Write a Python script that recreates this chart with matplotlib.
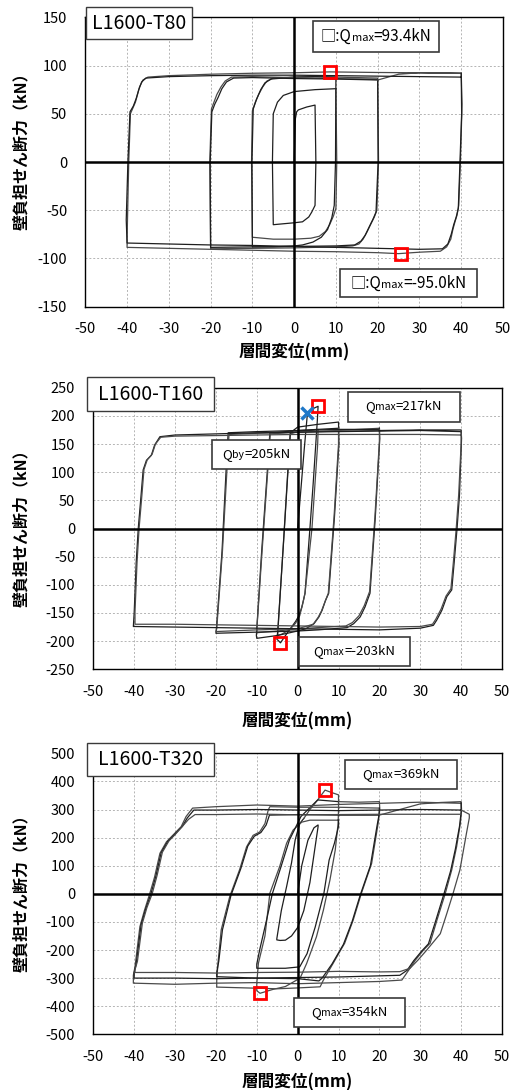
import matplotlib
matplotlib.use('Agg')
import matplotlib.pyplot as plt
from matplotlib.patches import Rectangle
from matplotlib.offsetbox import TextArea, HPacker, AnnotationBbox

FONT = ['Noto Sans CJK JP', 'DejaVu Sans']
plt.rcParams['font.family'] = FONT
plt.rcParams['axes.unicode_minus'] = False

# ---------------- data: L1600-T80 ----------------
t80_c5_x = [0, 0.3, 0.6, 1.0, 3.0, 5.0, 5.2, 5.0, 4.2, 3.5, 2.0, 0.0, -5.0, -5.2, -5.0, -4.0, -2.6, 0.0, 5.0, 10.0]
t80_c5_y = [0, 45, 52, 54, 57, 59, 0, -45, -52, -57, -62, -63, -65, 0, 50, 62, 69, 73, 75, 76]
t80_c10a_x = [10.0, 10.2, 10.0, 9.4, 8.5, 7.5, 6.0, 4.0, 0.0, -5.0, -10.0, -10.2, -10.0, -9.3, -8.5, -7.5, -6.5, -5.0, 0.0, 5.0, 10.0]
t80_c10a_y = [76, 0, -48, -56, -65, -72, -77, -79, -80, -80, -78, 0, 53, 62, 70, 78, 84, 87, 88, 88.5, 88]
t80_c10b_x = [10.0, 9.9, 9.6, 9.0, 8.0, 6.5, 4.5, 2.0, 0.0, -5.0, -10.0, -10.1, -9.8, -9.0, -8.0, -7.0, -5.5, 0.0, 5.0, 10.0]
t80_c10b_y = [88, 0, -45, -58, -70, -78, -83, -86, -87, -88, -88, 0, 55, 65, 75, 82, 86, 88, 88.5, 88]
t80_c20a_x = [10, 15, 20, 20.2, 19.8, 19.2, 18.5, 17.5, 16.5, 15.5, 14.0, 10.0, 0.0, -10.0, -20.0, -20.2, -19.8, -19.2, -18.5, -17.5, -16.5, -15.0, -10.0, 0.0, 10.0, 20.0]
t80_c20a_y = [88, 87.5, 87, 0, -50, -57, -63, -72, -80, -85, -87, -88, -89, -89.5, -90, 0, 55, 62, 70, 78, 84, 88, 88.5, 87.5, 86.5, 85.5]
t80_c20b_x = [20, 20.1, 19.6, 18.8, 18.0, 17.0, 16.0, 14.5, 10, 0, -10, -20, -20.1, -19.7, -19.0, -18.2, -17.3, -16.2, -14.5, -10, 0, 10, 20]
t80_c20b_y = [85.5, 0, -52, -60, -67, -76, -82, -86, -87, -87.5, -88, -88.5, 0, 52, 60, 67, 76, 83, 87, 87.5, 86.5, 86, 85]
t80_c40a_x = [20, 25, 30, 40, 40.2, 39.8, 39.4, 39.0, 38.5, 38.0, 37.5, 36.5, 35.0, 30, 25, 20, 10, 0, -10, -20, -30, -40,
              -40, -39.6, -39.2, -38.6, -38.0, -37.5, -37.0, -36.2, -35.0, -30, -20, -10, 0, 8.6, 20, 30, 40]
t80_c40a_y = [85, 91, 92.5, 92, 60, 0, -45, -55, -62, -70, -80, -88, -92.5, -93.5, -95, -94, -93, -92.5, -91.5, -90.5, -89.5, -88.5,
              -80, 0, 50, 56, 62, 70, 78, 85, 88, 89.5, 91, 92, 92.5, 93.4, 92.8, 92.5, 92]
t80_c40b_x = [40, 40.1, 39.7, 39.3, 38.8, 38.2, 37.6, 36.8, 35.5, 30, 20, 10, 0, -10, -20, -30, -40,
              -40.2, -39.8, -39.3, -38.5, -37.8, -37.2, -36.5, -35.5, -30, -20, -10, 0, 10, 20, 30, 40]
t80_c40b_y = [92, 50, 0, -48, -57, -65, -75, -85, -90, -90.5, -89.5, -88.5, -87.5, -86.5, -86, -85, -84,
              -60, 0, 52, 58, 66, 75, 83, 87, 88.5, 89.5, 90, 90, 89.5, 89, 88.5, 88]

# ---------------- data: L1600-T160 ----------------
t160_c5a_x = [0, 0.8, 1.6, 2.4, 3.5, 5.0, 4.8, 3.8, 3.0, 1.8, 1.4, 1.0, 0.3, -0.5, -1.5, -2.5, -4.2, -5.0]
t160_c5a_y = [0, 70, 140, 205, 212, 217, 190, 80, 0, -115, -128, -140, -155, -165, -175, -185, -203, -197]
t160_c5b_x = [-5.0, -4.9, -3.6, -2.4, -1.8, 0.0, 3.0, 5.0, 4.9, 3.5, 1.8, 1.2, 0.5, -0.5, -2.0, -4.0, -5.0]
t160_c5b_y = [-197, -190, -40, 104, 168, 172, 174, 176, 150, 0, -115, -135, -155, -168, -180, -188, -190]
t160_c10a_x = [-5.0, -4.9, -3.5, -2.3, -1.8, 0, 5, 10, 10.1, 9.0, 7.6, 6.8, 6.0, 5.2, 4.0, 2.0, 0.0, -5.0, -10.0,
               -10.1, -8.8, -7.4, -6.8, -3, 0, 5, 10]
t160_c10a_y = [-190, -185, -30, 110, 170, 180, 185, 189, 150, 20, -115, -128, -145, -157, -169, -178, -182, -190, -195,
               -190, -40, 104, 170, 172, 174, 176, 178]
t160_c10b_x = [10, 10.0, 8.9, 7.5, 6.7, 5.8, 5.0, 3.8, 0, -5, -10, -10.0, -8.7, -7.3, -6.7, 0, 10, 20]
t160_c10b_y = [178, 150, 20, -115, -130, -147, -158, -170, -178, -182, -185, -180, -40, 104, 168, 171, 174, 178]
t160_c20a_x = [20, 20.1, 19.0, 17.7, 16.5, 15.3, 13.7, 12.1, 5, 0, -10, -20, -19.9, -18.5, -17.5, -17.0, -10, 0, 10, 20]
t160_c20a_y = [178, 160, 20, -115, -139, -157, -169, -176, -180, -182, -184, -186, -180, -40, 104, 170, 172, 174, 176, 176]
t160_c20b_x = [20, 20.0, 18.9, 17.6, 16.3, 15.0, 13.4, 11.8, 5, 0, -10, -20, -19.8, -18.4, -17.3, -16.8, -10, 0, 10, 20]
t160_c20b_y = [176, 155, 20, -112, -137, -155, -167, -173, -176, -178, -180, -183, -178, -40, 104, 167, 169, 171, 173, 174]
t160_c40a_x = [20, 30, 40, 40.1, 39.6, 39.0, 38.3, 37.7, 36.5, 35.3, 34.0, 33.2, 30, 20, 10, 0, -10, -20, -30, -40.2,
               -40.0, -39.5, -39.0, -38.3, -37.8, -37.0, -35.8, -35.0, -33.7, -30, -20, -10, 0, 10, 20, 30, 40]
t160_c40a_y = [174, 175, 175, 160, 60, 0, -60, -109, -121, -145, -163, -172, -177, -180, -179, -178, -177, -176, -175, -174,
               -150, -60, 0, 60, 104, 121, 130, 148, 163, 166, 168, 170, 171, 172, 173, 174, 172]
t160_c40b_x = [40, 40.0, 39.4, 38.8, 38.1, 37.5, 36.3, 35.1, 33.8, 33.0, 30, 20, 10, 0, -10, -20, -30, -39.8,
               -39.8, -39.3, -38.8, -38.1, -37.6, -36.8, -35.6, -34.8, -33.5, -30, -20, -10, 0, 10, 20, 30, 40]
t160_c40b_y = [172, 150, 60, 0, -60, -107, -120, -143, -161, -170, -174, -175, -174, -173, -172, -171, -170, -170,
               -148, -60, 0, 60, 105, 122, 132, 150, 162, 164, 165, 166, 167, 167, 167, 167, 166]

# ---------------- data: L1600-T320 ----------------
t320_c5_x = [0, 1.0, 2.5, 4.0, 5.0, 5.0, 4.2, 3.0, 1.5, 0.0, -1.5, -3.0, -4.3, -5.1, -5.1, -4.0, -2.7, -1.5, -0.6, 0.5, 1.5]
t320_c5_y = [0, 100, 190, 235, 245, 239, 160, 40, -60, -120, -150, -165, -166, -164, -160, -60, 26, 110, 192, 250, 268]
t320_c10a_x = [1.5, 3.0, 4.9, 6.7, 8.0, 10.0, 10.0, 9.9, 9.2, 7.9, 6.3, 4.6, 2.2, 0.6, -3.0, -6.0, -9.2, -10.0,
               -10.0, -9.6, -8.0, -6.8, -4.4, -2.7, -1.1, 1.0, 3.0, 6.0, 10.0]
t320_c10a_y = [268, 300, 334, 369, 362, 352, 300, 251, 156, 49, -58, -153, -248, -300, -330, -340, -354, -345,
               -318, -247, -150, 2, 97, 180, 227, 255, 262, 262, 262]
t320_c10b_x = [10.0, 10.0, 9.0, 7.7, 6.4, 4.3, 2.3, 0.5, -3.0, -6.0, -10.0, -10.0, -9.3, -7.6, -6.2, -4.1, -2.0, 0.8, 4.9, 10.0]
t320_c10b_y = [262, 240, 180, 120, 0, -118, -213, -260, -265, -265, -265, -250, -200, -93, 0, 95, 192, 275, 334, 328]
t320_c20a_x = [10.0, 15.0, 20.0, 20.1, 19.7, 18.1, 15.6, 13.6, 11.5, 10.3, 8.7, 6.3, 5.5, 0.0, -5.0, -10.0, -15.0, -19.8,
               -19.8, -19.5, -18.7, -16.6, -14.2, -12.5, -10.9, -9.3, -8.0, -7.2, -6.8, 0.0, 10.0, 20.0]
t320_c20a_y = [328, 326, 328, 300, 251, 108, 2, -93, -176, -206, -247, -307, -331, -335, -338, -336, -334, -332,
               -310, -247, -128, -9, 86, 167, 208, 220, 250, 298, 310, 308, 308, 305]
t320_c20b_x = [20.0, 19.9, 19.4, 17.8, 15.3, 13.3, 11.2, 10.0, 8.4, 6.0, 5.2, 0.0, -10.0, -19.8,
               -19.8, -19.3, -18.4, -16.3, -13.9, -12.2, -10.6, -9.0, -7.7, -6.9, 0.0, 10.0, 20.0]
t320_c20b_y = [305, 280, 240, 100, -5, -100, -180, -210, -250, -300, -310, -302, -300, -295,
               -280, -240, -128, -5, 90, 170, 205, 218, 245, 280, 282, 280, 280]
t320_c40a_x = [20, 25, 30, 35, 40, 40.1, 39.8, 38.9, 37.7, 36.1, 34.1, 32.4, 30.8, 28.8, 27.2, 25.5, 20, 10, 0, -10, -20, -30, -40.2,
               -40.2, -39.8, -38.6, -37.5, -36.2, -35.0, -33.7, -32.1, -30.5, -28.5, -27.3, -25.7, -20, -10, 0, 10, 20, 30, 40]
t320_c40a_y = [280, 300, 320, 325, 328, 300, 250, 168, 85, 0, -93, -176, -200, -236, -271, -307, -312, -316, -320, -316, -318, -322, -318,
               -290, -260, -117, -60, 0, 60, 144, 185, 209, 239, 275, 305, 310, 316, 312, 318, 322, 326, 322]
t320_c40b_x = [40, 40.0, 39.6, 38.6, 37.4, 35.8, 33.8, 32.0, 30.4, 28.4, 26.8, 25.0, 20, 10, 0, -10, -20, -30, -40.0,
               -40.0, -39.5, -38.3, -37.2, -35.9, -34.7, -33.4, -31.8, -30.2, -28.2, -27.0, -25.4, -20, -10, 0, 10, 20, 30, 40]
t320_c40b_y = [322, 290, 240, 160, 80, 0, -95, -178, -203, -238, -272, -290, -292, -296, -298, -300, -302, -300, -300,
               -280, -250, -110, -55, 0, 62, 146, 186, 210, 240, 270, 298, 298, 300, 298, 296, 298, 300, 298]
t320_c40c_x = [40, 42.0, 42.0, 41.3, 39.7, 38.0, 36.5, 34.9, 31.6, 29.5, 27.5, 25.0, 20, 10, 0, -10, -20, -30, -39.8,
               -39.8, -39.2, -38.0, -36.9, -35.6, -34.4, -33.1, -31.5, -29.9, -27.9, -26.7, -25.1, -20, -10, 0, 10, 20, 30, 40]
t320_c40c_y = [298, 283, 270, 215, 85, 0, -70, -142, -200, -235, -265, -277, -278, -276, -279, -280, -282, -280, -280,
               -270, -240, -105, -50, 0, 65, 148, 188, 212, 245, 265, 282, 282, 284, 281, 282, 283, 283, 283]

t80_loops = [(t80_c5_x, t80_c5_y), (t80_c10a_x, t80_c10a_y), (t80_c10b_x, t80_c10b_y),
             (t80_c20a_x, t80_c20a_y), (t80_c20b_x, t80_c20b_y), (t80_c40a_x, t80_c40a_y), (t80_c40b_x, t80_c40b_y)]
t160_loops = [(t160_c5a_x, t160_c5a_y), (t160_c5b_x, t160_c5b_y), (t160_c10a_x, t160_c10a_y), (t160_c10b_x, t160_c10b_y),
              (t160_c20a_x, t160_c20a_y), (t160_c20b_x, t160_c20b_y), (t160_c40a_x, t160_c40a_y), (t160_c40b_x, t160_c40b_y)]
t320_loops = [(t320_c5_x, t320_c5_y), (t320_c10a_x, t320_c10a_y), (t320_c10b_x, t320_c10b_y),
              (t320_c20a_x, t320_c20a_y), (t320_c20b_x, t320_c20b_y),
              (t320_c40a_x, t320_c40a_y), (t320_c40b_x, t320_c40b_y), (t320_c40c_x, t320_c40c_y)]

# marked points
t80_qmax = [(8.6, 93.4), (25.5, -95.0)]
t160_qmax = [(5.0, 217), (-4.2, -203)]
t160_qby = (2.4, 205)
t320_qmax = [(6.7, 369), (-9.2, -354)]

titles = ['L1600-T80', 'L1600-T160', 'L1600-T320']
x_ticks = list(range(-50, 51, 10))


def setup(ax, ylim, ystep):
    ax.set_xlim(-50, 50)
    ax.set_ylim(-ylim, ylim)
    ax.set_xticks(x_ticks)
    ax.set_yticks(range(-ylim, ylim + 1, ystep))
    ax.grid(True, ls=(0, (2, 2)), color='#b4b4b4', lw=0.7)
    ax.tick_params(length=0, labelsize=10.5)
    ax.tick_params(axis='y', pad=13)
    ax.tick_params(axis='x', pad=11)
    for s in ax.spines.values():
        s.set_linewidth(1.0)
    ax.axhline(0, color='black', lw=1.8, zorder=3)
    ax.axvline(0, color='black', lw=1.8, zorder=3)


def draw_loops(ax, loops):
    for i, (x, y) in enumerate(loops):
        ax.plot(x, y, color='#1e1e1e' if i % 2 == 0 else '#4a4a4a', lw=0.9, zorder=2)


def box(ax, x0, y0, x1, y1, lw=1.2):
    ax.add_patch(Rectangle((x0, y0), x1 - x0, y1 - y0, transform=ax.transAxes, fc='white',
                           ec='#3a3a3a', lw=lw, zorder=6, clip_on=False))


def qlabel(ax, rect, parts):
    x0, y0, x1, y1 = rect
    box(ax, x0, y0, x1, y1)
    kids = [TextArea(t, textprops=dict(fontsize=s, family=FONT)) for t, s in parts]
    pack = HPacker(children=kids, align='baseline', pad=0, sep=0)
    ab = AnnotationBbox(pack, ((x0 + x1) / 2, (y0 + y1) / 2), xycoords='axes fraction',
                        frameon=False, box_alignment=(0.5, 0.5), pad=0, zorder=7, annotation_clip=False)
    ax.add_artist(ab)


def title(ax, rect, text):
    x0, y0, x1, y1 = rect
    box(ax, x0, y0, x1, y1, lw=1.0)
    ax.text((x0 + x1) / 2, (y0 + y1) / 2, text, transform=ax.transAxes, ha='center', va='center',
            fontsize=14, zorder=7)


def red_marks(ax, pts):
    for x, y in pts:
        ax.plot(x, y, marker='s', ms=8, mfc='none', mec='#ff0000', mew=2, zorder=8)


W, H = 514, 1090
fig = plt.figure(figsize=(W / 100, H / 100), dpi=100)

def px_axes(l, t, r, b):
    return fig.add_axes([l / W, 1 - b / H, (r - l) / W, (b - t) / H])

ax1 = px_axes(85.3, 17.3, 503, 306.7)
ax2 = px_axes(93.3, 387.7, 502, 669.3)
ax3 = px_axes(93.3, 753.3, 502, 1034.3)

# panel 1
setup(ax1, 150, 50)
draw_loops(ax1, t80_loops)
red_marks(ax1, t80_qmax)
title(ax1, (0.0017, 0.925, 0.2555, 1.0356), titles[0])
qlabel(ax1, (0.545, 0.880, 0.847, 0.987), [('□:Q', 11), ('max', 8), ('=93.4kN', 11)])
qlabel(ax1, (0.6097, 0.0335, 0.9375, 0.130), [('□:Q', 11), ('max', 8), ('=-95.0kN', 11)])

# panel 2
setup(ax2, 250, 50)
draw_loops(ax2, t160_loops)
red_marks(ax2, t160_qmax)
ax2.plot(*t160_qby, marker='x', ms=9, mec='#1f78c8', mew=2.5, zorder=8)
title(ax2, (-0.0154, 0.917, 0.2954, 1.038), titles[1])
qlabel(ax2, (0.623, 0.878, 0.897, 0.985), [('Q', 9.5), ('max', 7.5), ('=217kN', 9.5)])
qlabel(ax2, (0.2905, 0.711, 0.508, 0.814), [('Q', 9.5), ('by', 7.5), ('=205kN', 9.5)])
qlabel(ax2, (0.5032, 0.0117, 0.7748, 0.1147), [('Q', 9.5), ('max', 7.5), ('=-203kN', 9.5)])

# panel 3
setup(ax3, 500, 100)
draw_loops(ax3, t320_loops)
red_marks(ax3, t320_qmax)
title(ax3, (-0.0154, 0.919, 0.2954, 1.0367), titles[2])
qlabel(ax3, (0.6158, 0.873, 0.890, 0.976), [('Q', 9.5), ('max', 7.5), ('=369kN', 9.5)])
qlabel(ax3, (0.491, 0.026, 0.763, 0.129), [('Q', 9.5), ('max', 7.5), ('=354kN', 9.5)])

# axis labels
for xc, yc in [(294, 352), (297.7, 721), (297.7, 1082)]:
    fig.text(xc / W, 1 - yc / H, '層間変位(mm)', ha='center', va='center', fontsize=12, fontweight='bold')
for yc in [147.5, 524.5, 889]:
    fig.text(21 / W, 1 - yc / H, '壁負担せん断力（kN）', ha='center', va='center', rotation=90,
             fontsize=11.5, fontweight='bold')

fig.savefig('out.png', dpi=100)
